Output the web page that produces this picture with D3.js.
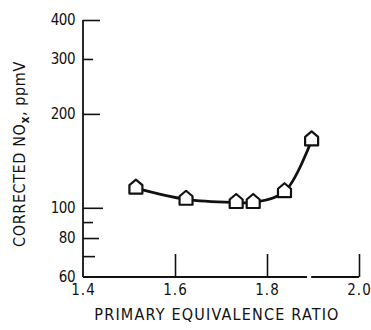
<!DOCTYPE html>
<html>
<head>
<meta charset="utf-8">
<script src="https://cdn.jsdelivr.net/npm/d3@7"></script>
<style>
  body { margin: 0; background: #fff; }
  text { font-family: "DejaVu Sans Condensed", "Liberation Sans Narrow", "Arial Narrow", sans-serif; fill: #111; }
</style>
</head>
<body>
<svg id="chart" width="371" height="330"></svg>
<script>
// Corrected NOx emission vs. primary equivalence ratio
const ratio  = [1.515, 1.624, 1.733, 1.770, 1.838, 1.897];
const noxPpm = [115.7, 106.5, 104.0, 104.0, 112.6, 165.0];

const xTicks = [1.4, 1.6, 1.8, 2.0];
const yTicks = [60, 70, 80, 90, 100, 200, 300, 400];
const yTickLabels = [60, 80, 100, 200, 300, 400];

const svg = d3.select("#chart");
const plotLeft = 83, plotRight = 359, plotTop = 20, plotBottom = 277;

const x = d3.scaleLinear().domain([1.4, 2.0]).range([plotLeft, plotRight]);
const y = d3.scaleLog().domain([60, 400]).range([plotBottom, plotTop]);

const ink = "#111";

// Y axis: ticks point inward, only some values labelled
const tickLen = v => ({400: 17, 300: 10, 200: 17, 100: 20, 90: 10, 80: 16, 70: 12, 60: 0})[v];
const gy = svg.append("g")
  .attr("transform", `translate(${plotLeft},0)`)
  .call(d3.axisLeft(y)
    .tickValues(yTicks)
    .tickSize(0)
    .tickPadding(8)
    .tickFormat(v => yTickLabels.includes(v) ? String(v) : ""));
gy.select(".domain").remove();
gy.selectAll(".tick line").attr("x2", d => tickLen(d)).attr("stroke", ink).attr("stroke-width", 1.6);
gy.selectAll(".tick text").attr("font-size", 15).attr("letter-spacing", -0.5).style("font-family", null);
gy.append("line").attr("x1", 0).attr("x2", 0).attr("y1", y(400)).attr("y2", y(60))
  .attr("stroke", ink).attr("stroke-width", 1.8);

// X axis: ticks point upward
const gx = svg.append("g")
  .attr("transform", `translate(0,${plotBottom})`)
  .call(d3.axisBottom(x)
    .tickValues(xTicks)
    .tickSize(-23)
    .tickPadding(7)
    .tickFormat(d3.format(".1f")));
gx.select(".domain").remove();
gx.selectAll(".tick line").attr("stroke", ink).attr("stroke-width", 1.6)
  .filter(d => d === 1.4).remove();
gx.selectAll(".tick text").attr("font-size", 15).attr("letter-spacing", 1).style("font-family", null);
// baseline drawn in two pieces, with the small break near 1.89
[[1.4, 1.887], [1.896, 2.0]].forEach(([a, b]) => {
  gx.append("line").attr("x1", x(a)).attr("x2", x(b)).attr("y1", 0).attr("y2", 0)
    .attr("stroke", ink).attr("stroke-width", 1.8);
});

// Axis titles
svg.append("text")
  .attr("x", 217).attr("y", 320)
  .attr("text-anchor", "middle").attr("font-size", 16).attr("letter-spacing", 1.2)
  .text("PRIMARY EQUIVALENCE RATIO");

const yt = svg.append("text")
  .attr("transform", "translate(25,154) rotate(-90)")
  .attr("text-anchor", "middle").attr("font-size", 16).attr("letter-spacing", 0.6);
yt.append("tspan").text("CORRECTED NO");
yt.append("tspan").attr("dy", 4).attr("font-size", 12).attr("font-weight", "bold").text("x");
yt.append("tspan").attr("dy", -4).text(",  ppmV");

// Faired curve through the measurements
const pts = ratio.map((r, i) => [r, noxPpm[i]]);
svg.append("path")
  .datum(pts)
  .attr("fill", "none").attr("stroke", ink).attr("stroke-width", 2.8)
  .attr("d", d3.line().x(d => x(d[0])).y(d => y(d[1])).curve(d3.curveCatmullRom.alpha(0.5)));

// House-shaped markers
const house = "M0,-7.5 L6.5,-2 L6.5,6.5 L-6.5,6.5 L-6.5,-2 Z";
svg.append("g").selectAll("path")
  .data(pts)
  .join("path")
  .attr("transform", d => `translate(${x(d[0])},${y(d[1]) - 1})`)
  .attr("d", house)
  .attr("fill", "#fff").attr("stroke", ink).attr("stroke-width", 2.2)
  .attr("stroke-linejoin", "round");
</script>
</body>
</html>
